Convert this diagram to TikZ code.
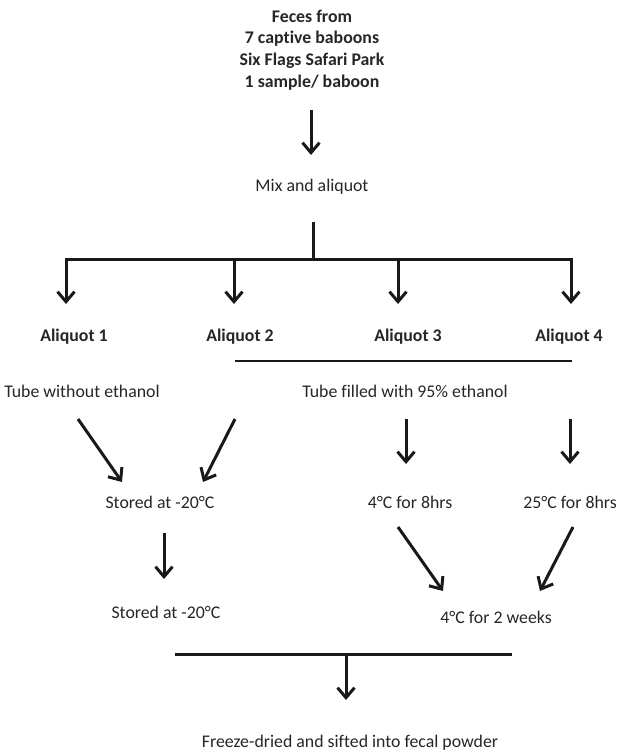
\documentclass[tikz,border=0pt]{standalone}
\usepackage{fontspec}
\setmainfont{Carlito}[Ligatures={NoCommon}]
\usetikzlibrary{arrows.meta}
\begin{document}
\begin{tikzpicture}[x=1pt,y=-1pt,
  txt/.style={font=\fontsize{17.8}{21.7}\selectfont, inner sep=0pt, text=black!85},
  btxt/.style={font=\bfseries\fontsize{17.8}{21.7}\selectfont, inner sep=0pt, align=center, text=black!85},
  arr/.style={line width=3pt, draw=black!90, -{Straight Barb[length=10pt,width=17pt]}},
  ln/.style={line width=3pt, draw=black!90},
  thin/.style={line width=2pt, draw=black!90}]
\useasboundingbox (0,0) rectangle (624,752);
% nodes
\node[btxt] (feces) at (312,50) {Feces from\\7 captive baboons\\Six Flags Safari Park\\1 sample/ baboon};
\node[txt] (mix) at (312,187) {Mix and aliquot};
\node[btxt] (al1) at (74,337) {Aliquot 1};
\node[btxt] (al2) at (240,337) {Aliquot 2};
\node[btxt] (al3) at (408,337) {Aliquot 3};
\node[btxt] (al4) at (569,337) {Aliquot 4};
\node[txt] (tubeno) at (82,391) {Tube without ethanol};
\node[txt] (tubeeth) at (405,391) {Tube filled with 95\% ethanol};
\node[txt] (stored1) at (160,502) {Stored at -20°C};
\node[txt] (c4) at (410,502) {4°C for 8hrs};
\node[txt] (c25) at (570,502) {25°C for 8hrs};
\node[txt] (stored2) at (166,612) {Stored at -20°C};
\node[txt] (weeks) at (496,617) {4°C for 2 weeks};
\node[txt] (final) at (350,743) {Freeze-dried and sifted into fecal powder};
% connector points
\coordinate (t1) at (311,110); \coordinate (t2) at (311,155);
\coordinate (v1) at (313,222); \coordinate (v2) at (313,259);
\coordinate (hL) at (66,259); \coordinate (hR) at (571,259);
\coordinate (h2) at (234,259); \coordinate (h3) at (398,259);
\coordinate (u1) at (235,361); \coordinate (u2) at (572,361);
\coordinate (d1s) at (78,419); \coordinate (d1e) at (122,482);
\coordinate (d2s) at (235,419); \coordinate (d2e) at (203,482);
\coordinate (e3s) at (406,419); \coordinate (e3e) at (406,464);
\coordinate (e4s) at (570,419); \coordinate (e4e) at (570,464);
\coordinate (s1) at (164,533); \coordinate (s2) at (164,579);
\coordinate (f1s) at (398,527); \coordinate (f1e) at (443,591);
\coordinate (f2s) at (573,527); \coordinate (f2e) at (540,591);
\coordinate (bL) at (175,654); \coordinate (bR) at (512,654);
\coordinate (bm) at (346,654); \coordinate (be) at (346,700);
% connectors
\draw[arr] (t1) -- (t2);
\draw[ln] (v1) -- (v2);
\draw[ln, line cap=rect] (hL) -- (hR);
\draw[arr] (hL) -- (66,304);
\draw[arr] (h2) -- (234,304);
\draw[arr] (h3) -- (398,304);
\draw[arr] (hR) -- (571,304);
\draw[thin] (u1) -- (u2);
\draw[arr] (d1s) -- (d1e);
\draw[arr] (d2s) -- (d2e);
\draw[arr] (e3s) -- (e3e);
\draw[arr] (e4s) -- (e4e);
\draw[arr] (s1) -- (s2);
\draw[arr] (f1s) -- (f1e);
\draw[arr] (f2s) -- (f2e);
\draw[ln] (bL) -- (bR);
\draw[arr] (bm) -- (be);
\end{tikzpicture}
\end{document}
